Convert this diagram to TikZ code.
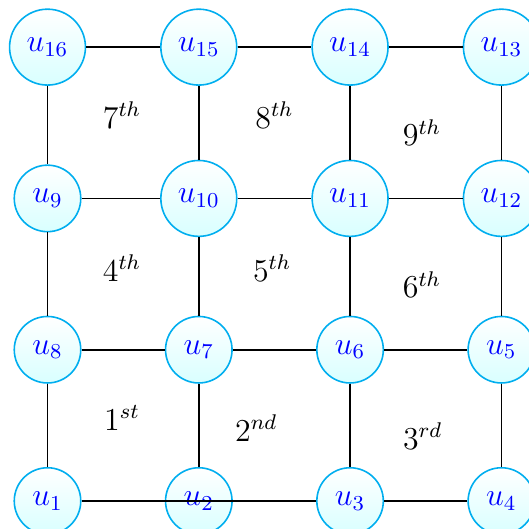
\documentclass[tikz,border=0pt]{standalone}
\usepackage{amsmath,amssymb}
\usetikzlibrary{positioning}

\definecolor{vborder}{RGB}{0,174,239}

\begin{document}
\begin{tikzpicture}[
			node distance=2cm,
			on grid,
			vertex/.style={
					circle,
					draw=vborder,
					semithick,
					top color=white,
					bottom color=cyan!15,
					text=blue,
					inner sep=4.2pt,
					font=\large
				},
			cell/.style={
					font=\large
				}
		]

		\useasboundingbox (-0.628,-0.370) rectangle (6.352,6.623);

		% bottom row
		\node[vertex] (u1) at (0,0) {$u_{1}$};
		\node[vertex,right=of u1] (u2) {$u_{2}$};
		\node[vertex,right=of u2] (u3) {$u_{3}$};
		\node[vertex,right=of u3] (u4) {$u_{4}$};

		% second row
		\node[vertex,above=of u1] (u8) {$u_{8}$};
		\node[vertex,right=of u8] (u7) {$u_{7}$};
		\node[vertex,right=of u7] (u6) {$u_{6}$};
		\node[vertex,right=of u6] (u5) {$u_{5}$};

		% third row
		\node[vertex,above=of u8] (u9) {$u_{9}$};
		\node[vertex,right=of u9] (u10) {$u_{10}$};
		\node[vertex,right=of u10] (u11) {$u_{11}$};
		\node[vertex,right=of u11] (u12) {$u_{12}$};

		% top row
		\node[vertex,above=of u9] (u16) {$u_{16}$};
		\node[vertex,right=of u16] (u15) {$u_{15}$};
		\node[vertex,right=of u15] (u14) {$u_{14}$};
		\node[vertex,right=of u14] (u13) {$u_{13}$};

		% cell labels
		\node[cell] (c7) at (0.985,5.10) {$7^{th}$};
		\node[cell] (c8) at (3.00,5.10) {$8^{th}$};
		\node[cell] (c9) at (4.95,4.87) {$9^{th}$};
		\node[cell] (c4) at (0.985,3.08) {$4^{th}$};
		\node[cell] (c5) at (2.97,3.08) {$5^{th}$};
		\node[cell] (c6) at (4.95,2.86) {$6^{th}$};
		\node[cell] (c1) at (0.985,1.10) {$1^{st}$};
		\node[cell] (c2) at (2.76,0.96) {$2^{nd}$};
		\node[cell] (c3) at (4.96,0.86) {$3^{rd}$};

		% horizontal edges
		\draw[semithick] (u16)--(u15);
		\draw[semithick] (u15)--(u14);
		\draw[semithick] (u14)--(u13);
		\draw[semithick] (u9)--(u10);
		\draw[semithick] (u10)--(u11);
		\draw[semithick] (u11)--(u12);
		\draw[semithick] (u8)--(u7);
		\draw[semithick] (u7)--(u6);
		\draw[semithick] (u6)--(u5);
		\draw[semithick] (u1)--(u3);
		\draw[semithick] (u3)--(u4);

		% vertical edges
		\draw[semithick] (u16)--(u9);
		\draw[semithick] (u9)--(u8);
		\draw[semithick] (u8)--(u1);
		\draw[semithick] (u15)--(u10);
		\draw[semithick] (u10)--(u7);
		\draw[semithick] (u7)--(u2);
		\draw[semithick] (u14)--(u11);
		\draw[semithick] (u11)--(u6);
		\draw[semithick] (u6)--(u3);
		\draw[semithick] (u13)--(u12);
		\draw[semithick] (u12)--(u5);
		\draw[semithick] (u5)--(u4);

	\end{tikzpicture}
\end{document}
